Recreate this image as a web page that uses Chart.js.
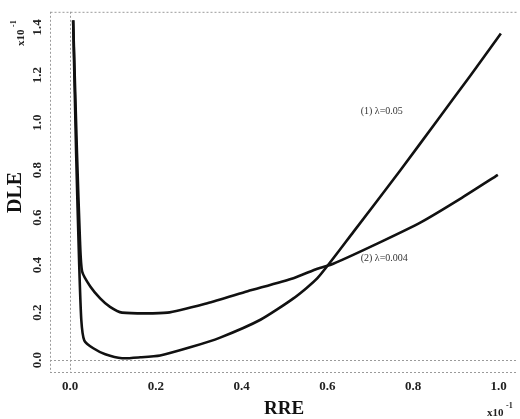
<!DOCTYPE html>
<html>
<head>
<meta charset="utf-8">
<script src="https://cdn.jsdelivr.net/npm/chart.js@4/dist/chart.umd.min.js"></script>
<style>
html,body{margin:0;padding:0;background:#fff;}
#wrap{position:relative;width:520px;height:419px;}
</style>
</head>
<body>
<div id="wrap"><canvas id="c" width="520" height="419"></canvas></div>
<script>
// ---- data ----
const xTicks = [0.0, 0.2, 0.4, 0.6, 0.8, 1.0];
const yTicks = [0.0, 0.2, 0.4, 0.6, 0.8, 1.0, 1.2, 1.4];

const s1X = [0.007, 0.014, 0.021, 0.026, 0.033, 0.054, 0.082, 0.121, 0.164, 0.21, 0.28, 0.35, 0.444, 0.521, 0.577, 0.661, 0.771, 0.857, 0.935, 1.005];
const s1Y = [1.43, 0.87, 0.41, 0.17, 0.083, 0.05, 0.025, 0.008, 0.012, 0.02, 0.054, 0.095, 0.17, 0.26, 0.345, 0.54, 0.80, 1.01, 1.20, 1.375];

const s2X = [0.007, 0.016, 0.023, 0.028, 0.047, 0.07, 0.093, 0.121, 0.227, 0.32, 0.414, 0.521, 0.577, 0.614, 0.724, 0.818, 0.911, 0.998];
const s2Y = [1.43, 0.87, 0.5, 0.373, 0.31, 0.26, 0.224, 0.2, 0.2, 0.24, 0.29, 0.345, 0.385, 0.406, 0.497, 0.58, 0.68, 0.78];

const seriesLabels = ['(1) λ=0.05', '(2) λ=0.004'];
const labelPos = [[0.678, 1.048], [0.678, 0.427]];
const xTitle = 'RRE';
const yTitle = 'DLE';
const expText = 'x10';
const expSup = '-1';

const toPts = (xs, ys) => xs.map((x, i) => ({x: x, y: ys[i]}));

const serif = "'Liberation Serif', 'DejaVu Serif', serif";

const decor = {
  id: 'decor',
  beforeDatasetsDraw(chart) {
    const {ctx, chartArea: a} = chart;
    ctx.save();
    ctx.strokeStyle = '#9a9a9a';
    ctx.lineWidth = 1;
    ctx.setLineDash([2, 2]);
    ctx.beginPath();
    ctx.moveTo(a.left + 0.5, a.top + 0.5); ctx.lineTo(a.right, a.top + 0.5);
    ctx.moveTo(a.left + 0.5, a.top); ctx.lineTo(a.left + 0.5, a.bottom);
    ctx.moveTo(a.left, a.bottom - 0.5); ctx.lineTo(a.right, a.bottom - 0.5);
    ctx.stroke();
    ctx.restore();
  },
  afterDatasetsDraw(chart) {
    const {ctx} = chart;
    const xs = chart.scales.x, ys = chart.scales.y;
    ctx.save();
    ctx.fillStyle = '#333';
    ctx.font = "10px " + serif;
    ctx.textBaseline = 'middle';
    ctx.textAlign = 'left';
    seriesLabels.forEach((t, i) => {
      ctx.fillText(t, xs.getPixelForValue(labelPos[i][0]), ys.getPixelForValue(labelPos[i][1]));
    });
    // exponent labels
    ctx.fillStyle = '#222';
    ctx.font = "bold 11px " + serif;
    ctx.textAlign = 'left';
    ctx.textBaseline = 'alphabetic';
    // bottom-right
    ctx.fillText(expText, 487, 416);
    ctx.font = "bold 8px " + serif;
    ctx.fillText(expSup, 506, 408);
    // top-left rotated
    ctx.save();
    ctx.translate(24, 46);
    ctx.rotate(-Math.PI / 2);
    ctx.font = "bold 11px " + serif;
    ctx.fillText(expText, 0, 0);
    ctx.font = "bold 8px " + serif;
    ctx.fillText(expSup, 19, -8);
    ctx.restore();
    ctx.restore();
  }
};

const zeroGrid = (ctx) => (ctx.tick && ctx.tick.value === 0) ? '#9a9a9a' : 'rgba(0,0,0,0)';

new Chart(document.getElementById('c'), {
  type: 'line',
  data: {
    datasets: [
      {data: toPts(s1X, s1Y), borderColor: '#111', borderWidth: 2.6, pointRadius: 0, tension: 0.2, fill: false},
      {data: toPts(s2X, s2Y), borderColor: '#111', borderWidth: 2.6, pointRadius: 0, tension: 0.2, fill: false}
    ]
  },
  options: {
    responsive: false,
    animation: false,
    layout: {padding: {left: 6, right: 2, top: 6, bottom: 0}},
    plugins: {legend: {display: false}, tooltip: {enabled: false}},
    scales: {
      x: {
        type: 'linear',
        min: -0.047, max: 1.045,
        afterBuildTicks: (s) => { s.ticks = xTicks.map(v => ({value: v})); },
        afterFit: (s) => { s.height = 46; },
        grid: {color: zeroGrid, drawTicks: false, lineWidth: 1},
        border: {display: false, dash: [2, 2]},
        ticks: {
          padding: 6, color: '#222', maxRotation: 0, minRotation: 0,
          font: {family: serif, size: 13, weight: 'bold'},
          callback: (v) => Number(v).toFixed(1)
        },
        title: {display: true, text: xTitle, color: '#111', padding: {top: 0, bottom: 0},
          font: {family: serif, size: 19, weight: 'bold', lineHeight: 1}}
      },
      y: {
        type: 'linear',
        min: -0.054, max: 1.466,
        afterBuildTicks: (s) => { s.ticks = yTicks.map(v => ({value: v})); },
        afterFit: (s) => { s.width = 44; },
        grid: {color: zeroGrid, drawTicks: false, lineWidth: 1},
        border: {display: false, dash: [2, 2]},
        ticks: {
          padding: 4, color: '#222', minRotation: 90, maxRotation: 90, crossAlign: 'center',
          font: {family: serif, size: 13, weight: 'bold'},
          callback: (v) => Number(v).toFixed(1)
        },
        title: {display: true, text: yTitle, color: '#111', padding: {top: 0, bottom: 0},
          font: {family: serif, size: 20, weight: 'bold', lineHeight: 1}}
      }
    }
  },
  plugins: [decor]
});
</script>
</body>
</html>
